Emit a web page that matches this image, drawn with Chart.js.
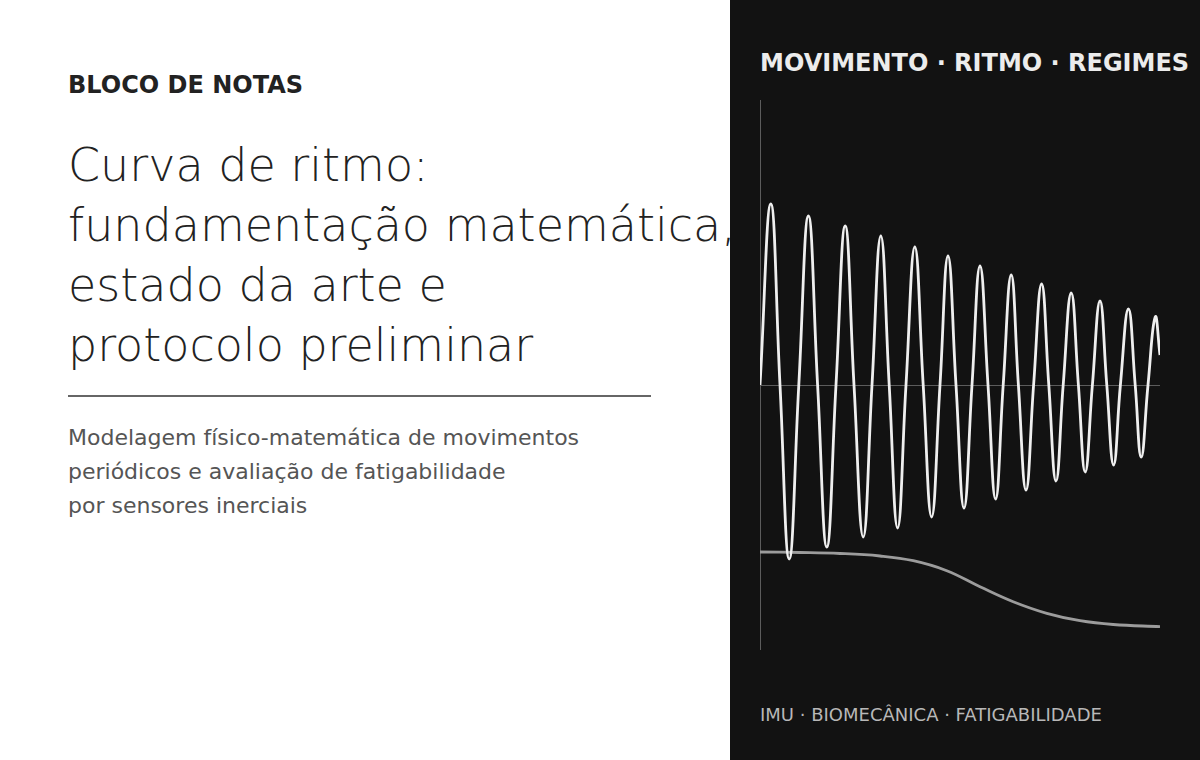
<!DOCTYPE html>
<html lang="pt">
<head>
<meta charset="utf-8">
<title>Curva de ritmo</title>
<script src="https://cdn.jsdelivr.net/npm/chart.js@4.4.1/dist/chart.umd.min.js"></script>
<style>
  html, body { margin: 0; padding: 0; }
  body {
    width: 1200px; height: 760px; position: relative; overflow: hidden;
    background: #ffffff; font-family: "DejaVu Sans", sans-serif;
  }
  .kicker {
    position: absolute; left: 68px; top: 73px; margin: 0;
    font-size: 24px; line-height: 24px; font-weight: bold; color: #222;
  }
  .headline {
    position: absolute; left: 68px; top: 135px; margin: 0; white-space: nowrap;
    font-size: 46px; line-height: 60px; font-weight: 200; color: #222;
  }
  .rule {
    position: absolute; left: 68px; top: 395px; width: 583px; height: 2px; background: #666;
  }
  .lead {
    position: absolute; left: 68px; top: 421px; margin: 0;
    font-size: 22px; line-height: 34px; color: #555;
  }
  .panel {
    position: absolute; left: 730px; top: 0; width: 470px; height: 760px; background: #121212;
  }
  .panel-title {
    position: absolute; left: 760px; top: 51px; margin: 0; white-space: nowrap;
    font-size: 24px; line-height: 24px; font-weight: bold; color: #ececec;
  }
  .panel-foot {
    position: absolute; left: 760px; top: 706px; margin: 0; white-space: nowrap;
    font-size: 18px; line-height: 18px; color: #b8b8b8;
  }
  .chart-box {
    position: absolute; left: 750px; top: 90px; width: 420px; height: 570px;
  }
</style>
</head>
<body>

<p class="kicker">BLOCO DE NOTAS</p>
<h1 class="headline">Curva de ritmo:<br>fundamentação matemática,<br>estado da arte e<br>protocolo preliminar</h1>
<div class="rule"></div>
<p class="lead">Modelagem físico-matemática de movimentos<br>periódicos e avaliação de fatigabilidade<br>por sensores inerciais</p>

<div class="panel"></div>
<p class="panel-title">MOVIMENTO · RITMO · REGIMES</p>
<div class="chart-box"><canvas id="ritmo"></canvas></div>
<p class="panel-foot">IMU · BIOMECÂNICA · FATIGABILIDADE</p>

<script>
// --- ritmo: oscilação (picos, vales e cruzamentos de zero) ---
const waveT = [
  0.00, 0.27, 0.50, 0.73, 0.97, 1.21, 1.44, 1.67, 1.90, 2.13,
  2.35, 2.58, 2.80, 3.02, 3.23, 3.44, 3.65, 3.87, 4.08, 4.29,
  4.50, 4.70, 4.90, 5.10, 5.30, 5.50, 5.70, 5.89, 6.08, 6.28,
  6.46, 6.65, 6.84, 7.04, 7.22, 7.40, 7.58, 7.78, 7.96, 8.13,
  8.31, 8.50, 8.67, 8.84, 9.01, 9.21, 9.38, 9.53, 9.70, 9.88,
  10.00
];
const waveY = [
  0.00, 1.81, 0.00, -1.74, 0.00, 1.69, 0.00, -1.62, 0.00, 1.59,
  0.00, -1.52, 0.00, 1.49, 0.00, -1.43, 0.00, 1.38, 0.00, -1.32,
  0.00, 1.29, 0.00, -1.23, 0.00, 1.19, 0.00, -1.14, 0.00, 1.10,
  0.00, -1.05, 0.00, 1.01, 0.00, -0.96, 0.00, 0.92, 0.00, -0.87,
  0.00, 0.84, 0.00, -0.80, 0.00, 0.76, 0.00, -0.72, 0.00, 0.68,
  0.30
];

// --- regime: curva de transição (fadiga) ---
const regimeT = [0.00, 1.00, 2.00, 3.00, 3.83, 4.67, 5.50, 6.33, 7.17, 8.00, 8.83, 10.00];
const regimeY = [-1.67, -1.675, -1.685, -1.71, -1.757, -1.857, -2.017, -2.167, -2.283, -2.357, -2.395, -2.417];

const toPoints = (xs, ys) => xs.map((x, i) => ({ x, y: ys[i] }));

// eixo vertical + linha do zero, desenhados a partir das escalas
const axisLines = {
  id: 'axisLines',
  beforeDatasetsDraw(chart) {
    const { ctx, chartArea, scales } = chart;
    const y0 = Math.round(scales.y.getPixelForValue(0)) + 0.5;
    const x0 = Math.round(scales.x.getPixelForValue(0)) + 0.5;
    ctx.save();
    ctx.strokeStyle = '#5c5c5c';
    ctx.lineWidth = 1;
    ctx.beginPath();
    ctx.moveTo(x0, chartArea.top);
    ctx.lineTo(x0, chartArea.bottom);
    ctx.moveTo(x0, y0);
    ctx.lineTo(chartArea.right, y0);
    ctx.stroke();
    ctx.restore();
  }
};

new Chart(document.getElementById('ritmo'), {
  type: 'line',
  data: {
    datasets: [
      {
        label: 'Ritmo',
        data: toPoints(waveT, waveY),
        borderColor: '#efefef',
        borderWidth: 2.8,
        pointRadius: 0,
        tension: 0.45,
        fill: false,
      },
      {
        label: 'Regime',
        data: toPoints(regimeT, regimeY),
        borderColor: '#9c9c9c',
        borderWidth: 2.8,
        pointRadius: 0,
        tension: 0.4,
        fill: false,
      }
    ]
  },
  options: {
    responsive: true,
    maintainAspectRatio: false,
    animation: false,
    layout: { padding: 10 },
    plugins: { legend: { display: false }, tooltip: { enabled: false } },
    scales: {
      x: { type: 'linear', min: 0, max: 10, display: false },
      y: { min: -2.65, max: 2.85, display: false }
    }
  },
  plugins: [axisLines]
});
</script>
</body>
</html>
